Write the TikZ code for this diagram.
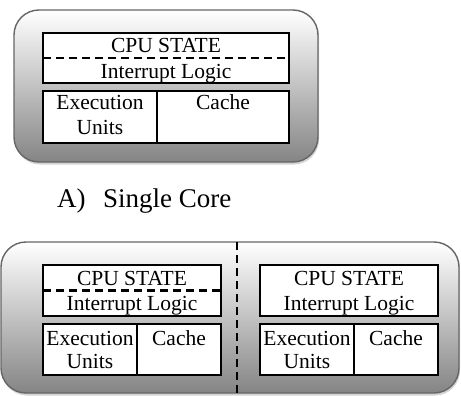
\documentclass[tikz,border=0pt]{standalone}
\usepackage{fontspec}
\setmainfont{Liberation Serif}
\usetikzlibrary{positioning,shadows}

\begin{document}
\begin{tikzpicture}[x=1pt, y=-1pt,
    chip/.style={draw=black!60, line width=1.4pt, rounded corners=25pt,
                 top color=white, bottom color=black!48,
                 drop shadow={shadow xshift=1pt, shadow yshift=-2.5pt, opacity=0.35}},
    unit/.style={draw, line width=2.2pt, fill=white, inner sep=0pt, outer sep=0pt, anchor=north west},
    txt/.style={font=\fontsize{21.5}{25}\selectfont, anchor=base, inner sep=0pt},
    captxt/.style={font=\fontsize{27}{30}\selectfont, anchor=base west, inner sep=0pt},
    split/.style={line width=2.2pt, dash pattern=on 8pt off 5pt}]
      \useasboundingbox (0,0) rectangle (461,396);

      % Single core chip
      \draw[chip] (14,10) rectangle (318,162);
      \node[unit, minimum width=246, minimum height=50] (cpuS) at (43,33) {};
      \node[unit, minimum width=114, minimum height=52] (exeS) at (43,91) {};
      \node[unit, minimum width=132, minimum height=52] (cacS) at (157,91) {};
      \draw[split] (cpuS.west) -- (cpuS.east);
      \node[txt] (stS) at (166,53) {CPU STATE};
      \node[txt] (irS) at (166,78) {Interrupt Logic};
      \node[txt] (ex1S) at (100,110) {Execution};
      \node[txt] (ex2S) at (100,135) {Units};
      \node[txt] (caS) at (223,110) {Cache};

      % Caption
      \node[captxt] (capA) at (57,207) {A)};
      \node[captxt] (capT) at (103,207) {Single Core};

      % Dual core chip
      \draw[chip] (1,242) rectangle (459,393);
      \coordinate (divT) at (237,242);
      \coordinate (divB) at (237,396);
      \draw[split] (divT) -- (divB);

      % Left core
      \node[unit, minimum width=178, minimum height=51] (cpuL) at (43,265) {};
      \node[unit, minimum width=94, minimum height=51] (exeL) at (43,324) {};
      \node[unit, minimum width=84, minimum height=51] (cacL) at (137,324) {};
      \draw[split] (cpuL.west) -- (cpuL.east);
      \node[txt] (stL) at (132,285) {CPU STATE};
      \node[txt] (irL) at (132,310) {Interrupt Logic};
      \node[txt] (ex1L) at (90,345) {Execution};
      \node[txt] (ex2L) at (90,368) {Units};
      \node[txt] (caL) at (179,345) {Cache};

      % Right core
      \node[unit, minimum width=178, minimum height=51] (cpuR) at (260,265) {};
      \node[unit, minimum width=94, minimum height=51] (exeR) at (260,324) {};
      \node[unit, minimum width=84, minimum height=51] (cacR) at (354,324) {};
      \node[txt] (stR) at (349,285) {CPU STATE};
      \node[txt] (irR) at (349,310) {Interrupt Logic};
      \node[txt] (ex1R) at (307,345) {Execution};
      \node[txt] (ex2R) at (307,368) {Units};
      \node[txt] (caR) at (396,345) {Cache};
    \end{tikzpicture}
\end{document}
